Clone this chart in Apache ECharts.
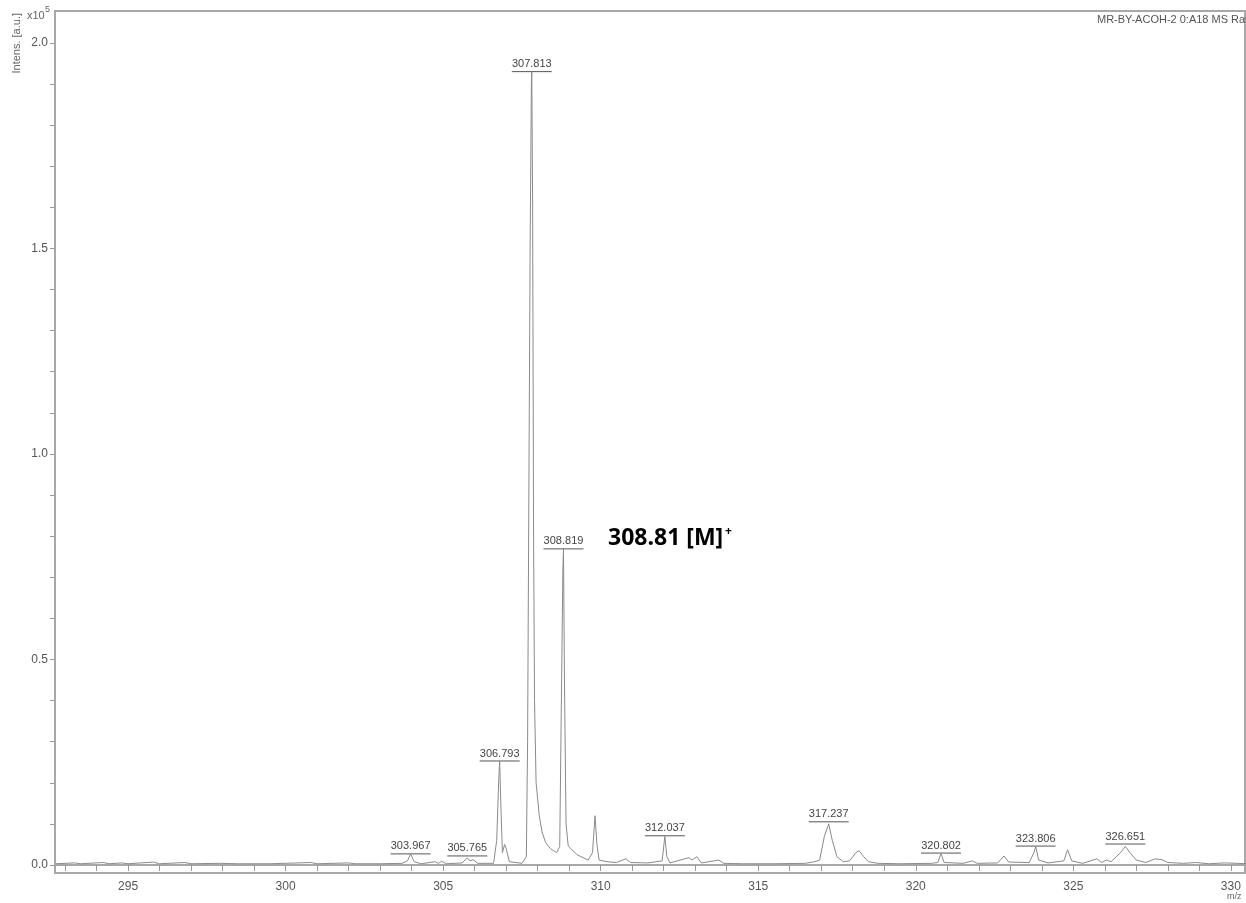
<!DOCTYPE html>
<html>
<head>
<meta charset="utf-8">
<script src="https://cdn.jsdelivr.net/npm/echarts@6/dist/echarts.min.js"></script>
<style>
  html, body { margin: 0; padding: 0; background: #fff; }
  #mChart { width: 1246px; height: 903px; }
</style>
</head>
<body>
<div id="mChart"></div>
<script>
// m/z 刻度
var xTicks = [293, 294, 295, 296, 297, 298, 299, 300, 301, 302, 303, 304, 305, 306, 307, 308, 309, 310,
  311, 312, 313, 314, 315, 316, 317, 318, 319, 320, 321, 322, 323, 324, 325, 326, 327, 328, 329, 330];
var xLabels = [295, 300, 305, 310, 315, 320, 325, 330];
var yTicks = [0, 0.1, 0.2, 0.3, 0.4, 0.5, 0.6, 0.7, 0.8, 0.9, 1.0, 1.1, 1.2, 1.3, 1.4, 1.5, 1.6, 1.7, 1.8, 1.9, 2.0];
var yLabels = [0, 0.5, 1.0, 1.5, 2.0];

// 谱图 (m/z, 强度 x10^5)
var spectrum = [
  [292.7, 0.003], [293.3, 0.005], [293.5, 0.003], [294.2, 0.006], [294.4, 0.003], [294.8, 0.005],
  [295.0, 0.003], [295.8, 0.007], [296.0, 0.003], [296.8, 0.006], [297.0, 0.003], [297.9, 0.004],
  [298.5, 0.003], [299.5, 0.003], [300.8, 0.006], [301.0, 0.003], [302.0, 0.005], [302.2, 0.003],
  [303.0, 0.003], [303.7, 0.004], [303.87, 0.01], [303.967, 0.027], [304.08, 0.008], [304.3, 0.003],
  [304.75, 0.008], [304.85, 0.004], [304.95, 0.009], [305.1, 0.003], [305.6, 0.005], [305.765, 0.017],
  [305.85, 0.01], [305.95, 0.013], [306.1, 0.004], [306.6, 0.004], [306.7, 0.06], [306.76, 0.2],
  [306.793, 0.253], [306.83, 0.15], [306.88, 0.03], [306.95, 0.05], [307.0, 0.04], [307.1, 0.008],
  [307.5, 0.004], [307.64, 0.02], [307.68, 0.3], [307.72, 0.9], [307.76, 1.5], [307.8, 1.9],
  [307.813, 1.93], [307.84, 1.6], [307.87, 0.8], [307.9, 0.4], [307.95, 0.2], [308.05, 0.12],
  [308.14, 0.08], [308.25, 0.055], [308.4, 0.04], [308.6, 0.03], [308.7, 0.045], [308.76, 0.45],
  [308.8, 0.72], [308.819, 0.769], [308.85, 0.45], [308.9, 0.1], [308.97, 0.046], [309.25, 0.025],
  [309.6, 0.012], [309.74, 0.03], [309.82, 0.12], [309.88, 0.05], [309.95, 0.012], [310.2, 0.008],
  [310.5, 0.006], [310.8, 0.015], [310.95, 0.006], [311.5, 0.005], [311.95, 0.01], [312.037, 0.07],
  [312.1, 0.02], [312.2, 0.005], [312.8, 0.018], [312.9, 0.012], [313.05, 0.02], [313.2, 0.005],
  [313.75, 0.012], [313.9, 0.004], [314.5, 0.003], [315.5, 0.003], [316.5, 0.004], [316.8, 0.008],
  [316.95, 0.012], [317.1, 0.07], [317.237, 0.1], [317.35, 0.06], [317.5, 0.02], [317.7, 0.008],
  [317.9, 0.01], [318.1, 0.03], [318.2, 0.035], [318.35, 0.02], [318.5, 0.008], [318.8, 0.004],
  [319.5, 0.003], [320.5, 0.004], [320.7, 0.006], [320.802, 0.028], [320.9, 0.006], [321.5, 0.004],
  [321.8, 0.01], [321.95, 0.004], [322.6, 0.005], [322.8, 0.022], [322.95, 0.007], [323.6, 0.006],
  [323.75, 0.03], [323.806, 0.045], [323.9, 0.012], [324.2, 0.005], [324.7, 0.01], [324.82, 0.037],
  [324.95, 0.01], [325.3, 0.004], [325.75, 0.015], [325.9, 0.006], [326.05, 0.012], [326.2, 0.008],
  [326.5, 0.03], [326.651, 0.045], [326.8, 0.03], [327.0, 0.012], [327.3, 0.006], [327.6, 0.015],
  [327.8, 0.013], [328.0, 0.006], [328.5, 0.004], [328.9, 0.006], [329.3, 0.003], [329.8, 0.005],
  [330.2, 0.004], [330.5, 0.003]
];

// 峰标注
var peakMz = [303.967, 305.765, 306.793, 307.813, 308.819, 312.037, 317.237, 320.802, 323.806, 326.651];
var peakTop = [0.027, 0.022, 0.253, 1.93, 0.769, 0.071, 0.105, 0.029, 0.046, 0.051];

var axisFont = 'Liberation Sans Narrow, Arial Narrow, Liberation Sans, sans-serif';
var myChart = echarts.init(document.getElementById('mChart'));

myChart.setOption({
  animation: false,
  grid: {
    left: 55, right: 1, top: 11, bottom: 30,
    show: true, borderColor: '#a8a8a8', borderWidth: 2
  },
  xAxis: {
    type: 'value',
    min: 292.68, max: 330.45,
    axisLine: { lineStyle: { color: '#a8a8a8', width: 2 } },
    axisTick: { customValues: xTicks, length: 6, lineStyle: { color: '#999' } },
    axisLabel: {
      customValues: xLabels, color: '#555', fontSize: 12, fontFamily: axisFont, margin: 8
    },
    splitLine: { show: false }
  },
  yAxis: {
    type: 'value',
    min: -0.0195, max: 2.0775,
    axisLine: { show: true, lineStyle: { color: '#a8a8a8', width: 2 } },
    axisTick: { customValues: yTicks, length: 5, lineStyle: { color: '#999' } },
    axisLabel: {
      customValues: yLabels, color: '#555', fontSize: 12, fontFamily: axisFont, margin: 7,
      formatter: function (v) { return v.toFixed(1); }
    },
    splitLine: { show: false }
  },
  graphic: [
    {
      type: 'text', left: 11, top: 13, rotation: Math.PI / 2,
      style: { text: 'Intens. [a.u.]', fill: '#666', font: '11px ' + axisFont }
    },
    { type: 'text', left: 27, top: 10, style: { text: 'x10', fill: '#666', font: '11px ' + axisFont } },
    { type: 'text', left: 45, top: 5, style: { text: '5', fill: '#666', font: '9px ' + axisFont } },
    {
      type: 'text', left: 1097, top: 14,
      style: { text: 'MR-BY-ACOH-2 0:A18 MS Raw', fill: '#555', font: '11px ' + axisFont }
    },
    { type: 'text', left: 1227, top: 892, style: { text: 'm/z', fill: '#666', font: '9px ' + axisFont } },
    {
      type: 'text', left: 608, top: 527,
      style: { text: '308.81 [M]', fill: '#000', font: 'bold 23px "Open Sans", Lato, sans-serif' }
    },
    {
      type: 'text', left: 725, top: 526,
      style: { text: '+', fill: '#000', font: 'bold 12px "Open Sans", Lato, sans-serif' }
    }
  ],
  series: [
    {
      name: 'MS',
      type: 'line',
      data: spectrum,
      showSymbol: false,
      silent: true,
      lineStyle: { color: '#8a8a8a', width: 1 }
    },
    {
      name: 'peaks',
      type: 'custom',
      silent: true,
      data: peakMz.map(function (m, i) { return [m, peakTop[i]]; }),
      renderItem: function (params, api) {
        var p = api.coord([api.value(0), api.value(1)]);
        var txt = api.value(0).toFixed(3);
        return {
          type: 'group',
          children: [
            {
              type: 'line',
              shape: { x1: p[0] - 20, y1: p[1], x2: p[0] + 20, y2: p[1] },
              style: { stroke: '#555', lineWidth: 1 }
            },
            {
              type: 'text',
              x: p[0], y: p[1] - 2,
              style: {
                text: txt, fill: '#444', font: '11px ' + axisFont,
                textAlign: 'center', textVerticalAlign: 'bottom'
              }
            }
          ]
        };
      }
    }
  ]
});
</script>
</body>
</html>
